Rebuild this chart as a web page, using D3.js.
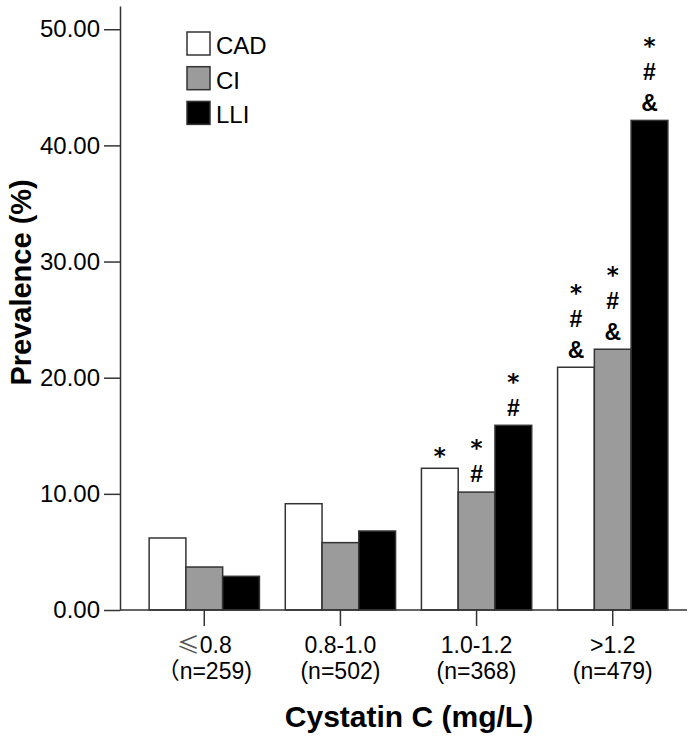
<!DOCTYPE html>
<html>
<head>
<meta charset="utf-8">
<script src="https://cdn.jsdelivr.net/npm/d3@7"></script>
<style>
  html, body { margin: 0; padding: 0; background: #fff; }
  svg { display: block; }
  text { font-family: "Liberation Sans", Arial, "Noto Sans CJK SC", sans-serif; fill: #000; }
</style>
</head>
<body>
<svg id="chart" width="694" height="743"></svg>
<script>
// ---- data ----
const categories = ["≤0.8", "0.8-1.0", "1.0-1.2", ">1.2"];
const categoryN = ["（n=259)", "(n=502)", "(n=368)", "(n=479)"];
const series = ["CAD", "CI", "LLI"];
const valuesCAD = [6.2, 9.15, 12.2, 20.9];
const valuesCI  = [3.7, 5.8, 10.15, 22.45];
const valuesLLI = [2.9, 6.8, 15.9, 42.15];
const annCAD = [[], [], ["*"], ["*", "#", "&"]];
const annCI  = [[], [], ["*", "#"], ["*", "#", "&"]];
const annLLI = [[], [], ["*", "#"], ["*", "#", "&"]];
const yTicks = [0, 10, 20, 30, 40, 50];
const yTitle = "Prevalence (%)";
const xTitle = "Cystatin C (mg/L)";

// ---- layout ----
const svg = d3.select("#chart");
const mLeft = 120, mBottom = 610, mTop = 6, axisRight = 687;
const fills = { CAD: "#ffffff", CI: "#9b9b9b", LLI: "#000000" };
const strokeCol = "#333333";

const y = d3.scaleLinear().domain([0, 52]).range([mBottom, mTop]);
const x0 = d3.scaleBand().domain(categories).range([mLeft, 697])
  .paddingInner(0.19).paddingOuter(0.214);
const x1 = d3.scaleBand().domain(series).range([0, x0.bandwidth()]);

const valuesBySeries = { CAD: valuesCAD, CI: valuesCI, LLI: valuesLLI };
const annBySeries = { CAD: annCAD, CI: annCI, LLI: annLLI };

const rows = [];
categories.forEach((c, i) => {
  series.forEach(s => rows.push({ cat: c, s, v: valuesBySeries[s][i], ann: annBySeries[s][i] }));
});

// bars
svg.append("g").selectAll("rect").data(rows).join("rect")
  .attr("x", d => x0(d.cat) + x1(d.s))
  .attr("y", d => y(d.v))
  .attr("width", x1.bandwidth())
  .attr("height", d => y(0) - y(d.v))
  .attr("fill", d => fills[d.s])
  .attr("stroke", strokeCol)
  .attr("stroke-width", 1.5);

// annotations
const annG = svg.append("g");
rows.filter(d => d.ann.length).forEach(d => {
  const n = d.ann.length;
  const cx = x0(d.cat) + x1(d.s) + x1.bandwidth() / 2;
  d.ann.forEach((t, k) => {
    const cy = y(d.v) - 18 - (n - 1 - k) * 31;
    const isStar = t === "*";
    annG.append("text")
      .attr("x", cx)
      .attr("y", cy + 23 * (isStar ? 0.58 : 0.36))
      .attr("text-anchor", "middle")
      .attr("font-weight", "bold")
      .attr("font-size", 23)
      .style("font-family", isStar ? "'DejaVu Sans', sans-serif" : null)
      .text(t);
  });
});

// y axis
const yAxis = svg.append("g").attr("transform", `translate(${mLeft},0)`)
  .call(d3.axisLeft(y).tickValues(yTicks).tickFormat(d3.format(".2f"))
    .tickSize(16).tickSizeOuter(0).tickPadding(4));
yAxis.select(".domain").attr("stroke", strokeCol).attr("stroke-width", 1.5);
yAxis.selectAll(".tick line").attr("stroke", strokeCol).attr("stroke-width", 1.5);
yAxis.selectAll(".tick text").attr("font-size", 24)
  .style("font-family", "'Liberation Sans', Arial, sans-serif").attr("fill", "#000");

// x axis
const xAxis = svg.append("g").attr("transform", `translate(0,${mBottom})`)
  .call(d3.axisBottom(x0).tickSize(16).tickSizeOuter(0).tickFormat(""));
xAxis.select(".domain").remove();
xAxis.selectAll(".tick line").attr("stroke", strokeCol).attr("stroke-width", 1.5);
svg.append("line")
  .attr("x1", mLeft).attr("x2", axisRight)
  .attr("y1", mBottom).attr("y2", mBottom)
  .attr("stroke", strokeCol).attr("stroke-width", 1.5);

const xl = svg.append("g");
categories.forEach((c, i) => {
  const cx = x0(c) + x0.bandwidth() / 2;
  const t = xl.append("text").attr("text-anchor", "middle").attr("font-size", 23);
  const first = t.append("tspan").attr("x", cx).attr("y", mBottom + 43);
  if (c.startsWith("≤")) {
    first.append("tspan").style("font-family", "'Noto Sans CJK SC', sans-serif")
      .attr("fill", "#555").text("≤");
    first.append("tspan").text(c.slice(1));
  } else {
    first.text(c);
  }
  t.append("tspan").attr("x", cx).attr("y", mBottom + 69).text(categoryN[i]);
});

// titles
svg.append("text")
  .attr("x", 409).attr("y", 727)
  .attr("text-anchor", "middle").attr("font-weight", "bold").attr("font-size", 30)
  .text(xTitle);
svg.append("text")
  .attr("transform", `translate(31,${y(28.2)}) rotate(-90)`)
  .attr("text-anchor", "middle").attr("font-weight", "bold").attr("font-size", 29)
  .text(yTitle);

// legend
const lg = svg.append("g").attr("transform", "translate(187,32)");
series.forEach((s, i) => {
  const g = lg.append("g").attr("transform", `translate(0,${i * 34.7})`);
  g.append("rect").attr("width", 23).attr("height", 23)
    .attr("fill", fills[s]).attr("stroke", strokeCol).attr("stroke-width", 1.5);
  g.append("text").attr("x", 29).attr("y", 22).attr("font-size", 24).text(s);
});
</script>
</body>
</html>
